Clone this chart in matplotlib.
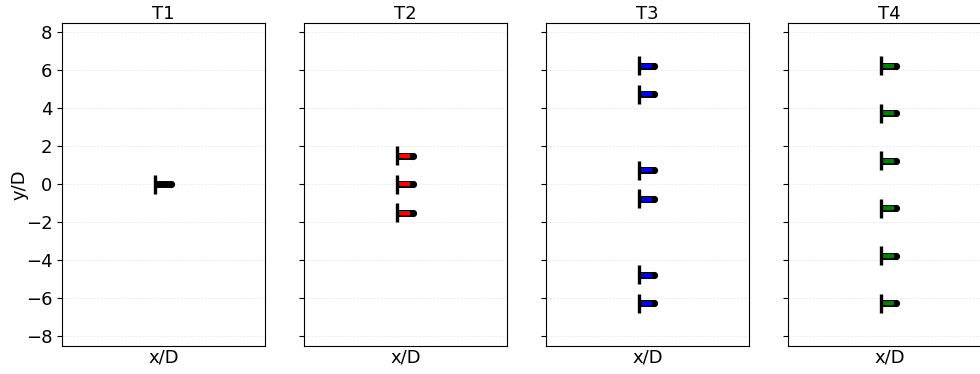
import matplotlib
matplotlib.use("Agg")
import matplotlib.pyplot as plt

# turbine layouts, positions in rotor diameters
titles = ["T1", "T2", "T3", "T4"]
colors = ["black", "red", "blue", "green"]
x_pos = [[0.0],
         [0.0, 0.0, 0.0],
         [0.0, 0.0, 0.0, 0.0, 0.0, 0.0],
         [0.0, 0.0, 0.0, 0.0, 0.0, 0.0]]
y_pos = [[0.0],
         [1.5, 0.0, -1.5],
         [6.25, 4.75, 0.75, -0.75, -4.75, -6.25],
         [6.25, 3.75, 1.25, -1.25, -3.75, -6.25]]

NACELLE = 0.75


def draw_turbine(ax, x, y, color):
    # nacelle: black outline, coloured body, round tip
    ax.plot([x, x + NACELLE], [y, y], color="k", lw=5.0,
            solid_capstyle="butt", zorder=3)
    ax.plot([x + NACELLE], [y], marker="o", ms=5.2, color="k",
            mew=0, zorder=3)
    ax.plot([x, x + NACELLE * 0.82], [y, y], color=color, lw=3.0,
            solid_capstyle="butt", zorder=4)
    # rotor
    ax.plot([x, x], [y - 0.5, y + 0.5], color="k", lw=2.4,
            solid_capstyle="butt", zorder=5)


fig, axes = plt.subplots(1, 4, figsize=(9.8, 3.74), dpi=100, sharey=True)
fig.subplots_adjust(left=0.0633, right=1.011, bottom=0.075, top=0.9385,
                    wspace=0.192)

for i, ax in enumerate(axes):
    for x, y in zip(x_pos[i], y_pos[i]):
        draw_turbine(ax, x, y, colors[i])
    ax.set_xlim(-4.6, 5.4)
    ax.set_ylim(-8.5, 8.5)
    ax.set_yticks([-8, -6, -4, -2, 0, 2, 4, 6, 8])
    ax.set_xticks([])
    ax.grid(axis="y", color="#e6e6e6", ls=(0, (3, 2)), lw=0.5)
    ax.set_axisbelow(True)
    ax.set_title(titles[i], fontsize=13, pad=3)
    ax.set_xlabel("x/D", fontsize=13, labelpad=2)
    ax.tick_params(axis="y", labelsize=13)

axes[0].set_ylabel("y/D", fontsize=13, labelpad=-2)

fig.savefig("out.png", dpi=100)
